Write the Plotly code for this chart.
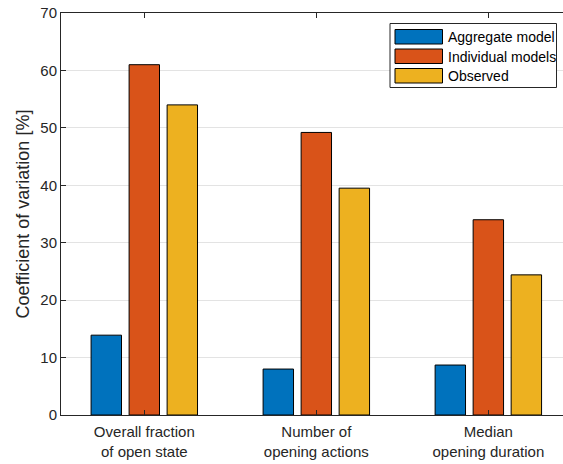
import plotly.graph_objects as go

# Coefficient of variation per metric, for each source
categories = ["Overall fraction<br>of open state",
              "Number of<br>opening actions",
              "Median<br>opening duration"]
series_names = ["Aggregate model", "Individual models", "Observed"]
aggregate_model = [13.9, 8.0, 8.7]
individual_models = [61.0, 49.2, 34.0]
observed = [54.0, 39.5, 24.4]
y_ticks = [0, 10, 20, 30, 40, 50, 60, 70]

colors = ["#0072BD", "#D95319", "#EDB120"]
axis_color = "#262626"
font_family = "Liberation Sans, Arial, Helvetica, sans-serif"

x_pos = [1, 2, 3]
fig = go.Figure()
for name, vals, col in zip(series_names,
                           [aggregate_model, individual_models, observed],
                           colors):
    fig.add_trace(go.Bar(
        x=x_pos, y=vals, name=name,
        marker=dict(color=col, line=dict(color="#000000", width=1)),
        showlegend=False,
    ))

W, H = 563, 464
m_l, m_r, m_t, m_b = 61, 0, 13, 49

fig.update_layout(
    width=W, height=H,
    margin=dict(l=m_l, r=m_r, t=m_t, b=m_b),
    paper_bgcolor="white", plot_bgcolor="white",
    barmode="group", bargap=0.337, bargroupgap=0.2,
    font=dict(family=font_family, size=15, color=axis_color),
    xaxis=dict(
        range=[0.5157, 3.434],
        tickmode="array", tickvals=x_pos, ticktext=categories,
        ticks="inside", ticklen=5, tickwidth=1, tickcolor=axis_color,
        showline=True, linecolor=axis_color, linewidth=1,
        mirror="allticks", showgrid=False, zeroline=False,
        tickfont=dict(size=15, color=axis_color),
        ticklabelstandoff=3,
    ),
    yaxis=dict(
        range=[0, 70],
        tickmode="array", tickvals=y_ticks,
        ticks="inside", ticklen=5, tickwidth=1, tickcolor=axis_color,
        showline=True, linecolor=axis_color, linewidth=1,
        showgrid=True, gridcolor="#e3e3e3", gridwidth=1,
        zeroline=False,
        tickfont=dict(size=15, color=axis_color),
        title=dict(text="Coefficient of variation [%]",
                   font=dict(size=18, color=axis_color), standoff=6),
    ),
)

# Legend box with wide swatches in the upper right of the axes
px = lambda x: (x - m_l) / (W - m_l - m_r)
py = lambda y: 1 - (y - m_t) / (H - m_t - m_b)

fig.add_shape(type="rect", xref="paper", yref="paper",
              x0=px(390), x1=px(556.5), y0=py(87.5), y1=py(23.5),
              line=dict(color=axis_color, width=1), fillcolor="white",
              layer="above")
row_tops = [29.5, 49, 68.5]
for name, col, top in zip(series_names, colors, row_tops):
    fig.add_shape(type="rect", xref="paper", yref="paper",
                  x0=px(395), x1=px(442.5), y0=py(top + 14.5), y1=py(top),
                  line=dict(color="#000000", width=1), fillcolor=col,
                  layer="above")
    fig.add_annotation(xref="paper", yref="paper",
                       x=px(446), y=py(top + 7.5), text=name,
                       showarrow=False, xanchor="left", yanchor="middle",
                       font=dict(size=14, color="#000000"))

fig.write_html("out.html")
